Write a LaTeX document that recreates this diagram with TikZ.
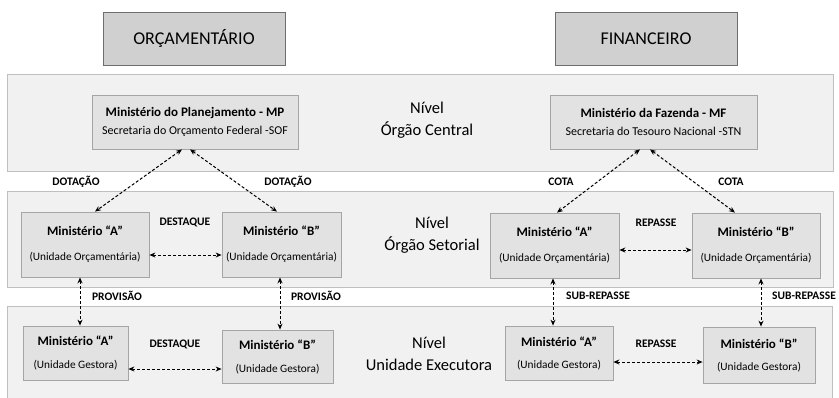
\documentclass[tikz,border=0pt]{standalone}
\usepackage{fontspec}
\setmainfont{Carlito}
\usetikzlibrary{arrows.meta,calc}
\definecolor{bandfill}{HTML}{F1F1F1}
\definecolor{bandline}{HTML}{BFBFBF}
\definecolor{boxfill}{HTML}{E2E2E2}
\definecolor{boxline}{HTML}{A5A5A5}
\definecolor{titfill}{HTML}{D0D0D0}
\definecolor{titline}{HTML}{6E6E6E}
\tikzset{
  band/.style={draw=bandline,fill=bandfill,line width=0.8pt},
  titlebox/.style={draw=titline,fill=titfill,line width=1pt,inner sep=0pt,font=\fontsize{18}{20}\selectfont},
  unitbox/.style={draw=boxline,fill=boxfill,line width=0.8pt,inner sep=0pt,align=center},
  leveltext/.style={align=center,font=\fontsize{16.5}{22}\selectfont},
  flowlabel/.style={font=\bfseries\fontsize{11.5}{13}\selectfont,inner sep=0pt},
  flow/.style={densely dashed,line width=1pt,{Stealth[length=6pt,width=5pt]}-{Stealth[length=6pt,width=5pt]}},
}
\newcommand{\unitA}[4]{{\bfseries\fontsize{13}{14}\selectfont #3}\\[#1]{\fontsize{#2}{13}\selectfont #4}}
\begin{document}
\begin{tikzpicture}[x=1pt,y=-1pt]
\useasboundingbox (0,0) rectangle (839,397);
\clip (0,0) rectangle (839,397);
% bands
\draw[band] (7,74) rectangle (833,171);
\draw[band] (7,191) rectangle (833,287);
\draw[band] (7,306) rectangle (832,405);
% titles
\node[titlebox,minimum width=182pt,minimum height=53pt] (orc) at (194,38.5) {ORÇAMENTÁRIO};
\node[titlebox,minimum width=182pt,minimum height=53pt] (fin) at (646,38.5) {FINANCEIRO};
% level texts
\node[leveltext] (lv1) at (427,120) {Nível\\Órgão Central};
\node[leveltext] (lv2) at (432,235) {Nível\\Órgão Setorial};
\node[leveltext] (lv3) at (429,354) {Nível\\Unidade Executora};
% central
\node[unitbox,minimum width=206pt,minimum height=54pt] (mp) at (195,122) {\unitA{6pt}{12}{Ministério do Planejamento - MP}{Secretaria do Orçamento Federal -SOF}};
\node[unitbox,minimum width=207pt,minimum height=54pt] (mf) at (653.5,122) {\unitA{6pt}{12}{Ministério da Fazenda - MF}{Secretaria do Tesouro Nacional -STN}};
% setorial
\node[unitbox,minimum width=128pt,minimum height=65pt] (oa) at (85,244.5) {\unitA{13pt}{11.3}{Ministério “A”}{(Unidade Orçamentária)}};
\node[unitbox,minimum width=119pt,minimum height=65pt] (ob) at (281.5,244.5) {\unitA{13pt}{11.3}{Ministério “B”}{(Unidade Orçamentária)}};
\node[unitbox,minimum width=129pt,minimum height=65pt] (fa) at (554.5,245.5) {\unitA{13pt}{11.3}{Ministério “A”}{(Unidade Orçamentária)}};
\node[unitbox,minimum width=128pt,minimum height=65pt] (fb) at (756,245.5) {\unitA{13pt}{11.3}{Ministério “B”}{(Unidade Orçamentária)}};
% executora
\node[unitbox,minimum width=105pt,minimum height=54pt] (ga) at (75.5,353) {\unitA{11pt}{11.3}{Ministério “A”}{(Unidade Gestora)}};
\node[unitbox,minimum width=111pt,minimum height=53pt] (gb) at (277.5,356.5) {\unitA{11pt}{11.3}{Ministério “B”}{(Unidade Gestora)}};
\node[unitbox,minimum width=108pt,minimum height=54pt] (ha) at (559,353) {\unitA{10pt}{11.3}{Ministério “A”}{(Unidade Gestora)}};
\node[unitbox,minimum width=112pt,minimum height=56pt] (hb) at (759,355) {\unitA{10pt}{11.3}{Ministério “B”}{(Unidade Gestora)}};
% flows
\draw[flow] ([xshift=-13pt]mp.south) -- ([xshift=10pt]oa.north);
\draw[flow] ([xshift=-5pt]mp.south) -- ([xshift=-4.5pt]ob.north);
\draw[flow] ([xshift=-13.5pt]mf.south) -- ([xshift=2.5pt]fa.north);
\draw[flow] ([xshift=-3.5pt]mf.south) -- ([xshift=-21pt]fb.north);
\draw[flow] ([yshift=-10.5pt]oa.east) -- ([yshift=-10.5pt]ob.west);
\draw[flow] ([yshift=-4.5pt]fa.east) -- ([yshift=-4.5pt]fb.west);
\draw[flow] ([yshift=-16pt]ga.east) -- ([yshift=-12.5pt]gb.west);
\draw[flow] ([yshift=-9pt]ha.east) -- ([yshift=-7pt]hb.west);
\draw[flow] ([xshift=-5pt]oa.south) -- ([xshift=4.5pt]ga.north);
\draw[flow] ([xshift=-1.5pt]ob.south) -- ([xshift=2.5pt]gb.north);
\draw[flow] ([xshift=-1.5pt]fa.south) -- ([xshift=-6pt]ha.north);
\draw[flow] ([xshift=5pt]fb.south) -- ([xshift=2pt]hb.north);
% labels
\node[flowlabel] (l1) at (76,182) {DOTAÇÃO};
\node[flowlabel] (l2) at (288,182) {DOTAÇÃO};
\node[flowlabel] (l3) at (561,182) {COTA};
\node[flowlabel] (l4) at (731,182) {COTA};
\node[flowlabel] (l5) at (185,222) {DESTAQUE};
\node[flowlabel] (l6) at (656,223) {REPASSE};
\node[flowlabel] (l7) at (117,296) {PROVISÃO};
\node[flowlabel] (l8) at (316,296) {PROVISÃO};
\node[flowlabel] (l9) at (598,296) {SUB-REPASSE};
\node[flowlabel] (l10) at (804,296) {SUB-REPASSE};
\node[flowlabel] (l11) at (175,344) {DESTAQUE};
\node[flowlabel] (l12) at (656,344) {REPASSE};
\end{tikzpicture}
\end{document}
